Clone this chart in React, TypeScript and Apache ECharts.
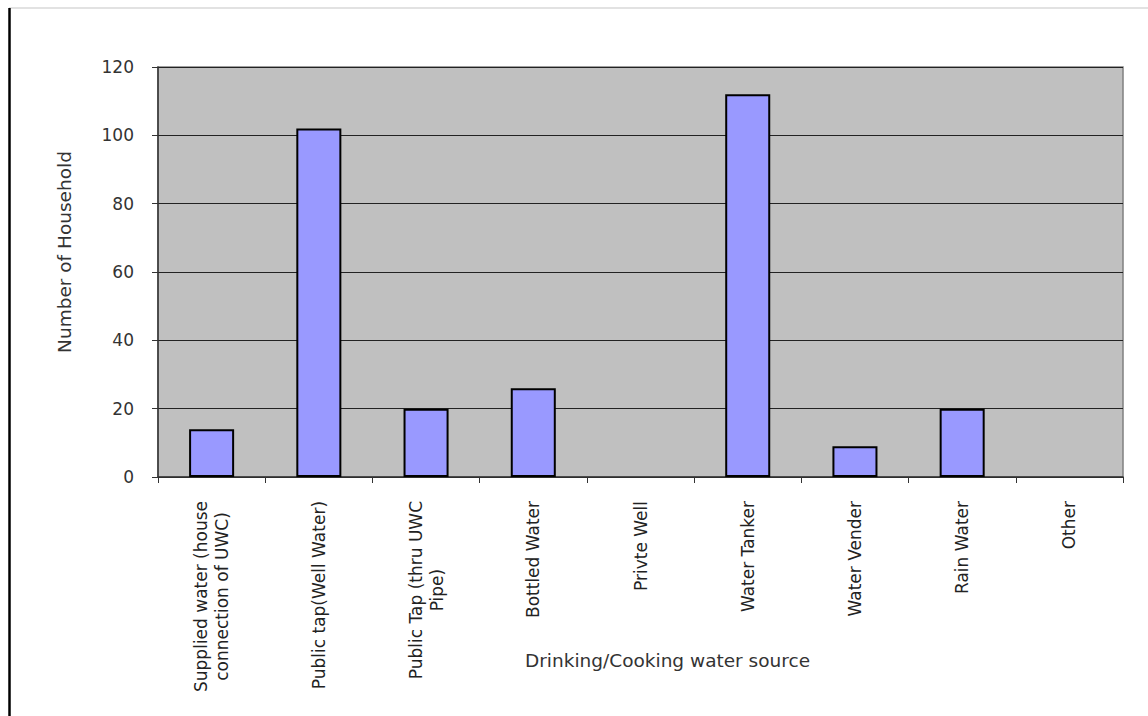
import React, { useEffect, useRef } from "react";
import * as echarts from "echarts";

const categories = [
  "Supplied water (house\nconnection of UWC)",
  "Public tap(Well Water)",
  "Public Tap (thru UWC\nPipe)",
  "Bottled Water",
  "Privte Well",
  "Water Tanker",
  "Water Vender",
  "Rain Water",
  "Other",
];
const households = [14, 102, 20, 26, 0, 112, 9, 20, 0];
const yTicks = { min: 0, max: 120, interval: 20 };

const FONT = "'DejaVu Sans', 'Liberation Sans', Arial, sans-serif";

export default function App() {
  const ref = useRef<HTMLDivElement>(null);
  useEffect(() => {
    if (!ref.current) return;
    const chart = echarts.init(ref.current, undefined, { renderer: "svg" });
    chart.setOption({
      animation: false,
      backgroundColor: "#ffffff",
      grid: {
        left: 158,
        top: 67,
        right: 25,
        bottom: 239,
        outerBoundsMode: "none",
        containLabel: false,
        show: true,
        backgroundColor: "#c0c0c0",
        borderColor: "#808080",
        borderWidth: 1.5,
      },
      xAxis: {
        type: "category",
        data: categories,
        name: "Drinking/Cooking water source",
        nameLocation: "middle",
        nameGap: 174,
        nameMoveOverlap: false,
        nameTextStyle: {
          fontFamily: FONT,
          fontSize: 18.5,
          color: "#333",
          padding: [0, 0, 0, 54],
        },
        axisLine: { show: true, lineStyle: { color: "#333", width: 1.5 } },
        axisTick: { show: true, length: 6, lineStyle: { color: "#333" } },
        axisLabel: {
          rotate: 90,
          interval: 0,
          margin: 24,
          fontFamily: FONT,
          fontSize: 17,
          color: "#222",
          lineHeight: 21,
          formatter: (v: string) =>
            v
              .split("\n")
              .map((s) => "{c|" + s + "}")
              .join("\n"),
          rich: {
            c: { align: "center", fontFamily: FONT, fontSize: 17, color: "#222", lineHeight: 21 },
          },
        },
      },
      yAxis: {
        type: "value",
        min: yTicks.min,
        max: yTicks.max,
        interval: yTicks.interval,
        name: "Number of Household",
        nameLocation: "middle",
        nameGap: 84,
        nameMoveOverlap: false,
        nameTextStyle: {
          fontFamily: FONT,
          fontSize: 18.5,
          color: "#333",
          padding: [0, 0, 0, 40],
        },
        axisLine: { show: true, lineStyle: { color: "#333", width: 1.5 } },
        axisTick: { show: true, length: 6, lineStyle: { color: "#333" } },
        axisLabel: {
          margin: 24,
          fontFamily: FONT,
          fontSize: 17,
          color: "#333",
        },
        splitLine: { show: true, lineStyle: { color: "#222", width: 1.2 } },
      },
      series: [
        {
          type: "bar",
          data: households.map((v) => ({
            value: v,
            itemStyle: v === 0 ? { borderWidth: 0, opacity: 0 } : undefined,
          })),
          barWidth: "42%",
          itemStyle: { color: "#9999ff", borderColor: "#000", borderWidth: 2 },
        },
      ],
      graphic: [
        {
          type: "line",
          shape: { x1: 9, y1: 8, x2: 1148, y2: 8 },
          style: { stroke: "#d8d8d8", lineWidth: 1.5 },
        },
        {
          type: "line",
          shape: { x1: 9.5, y1: 8, x2: 9.5, y2: 716 },
          style: { stroke: "#000", lineWidth: 2.5 },
        },
      ],
    });
    return () => chart.dispose();
  }, []);
  return (
    <div
      ref={ref}
      style={{ position: "fixed", left: 0, top: 0, width: 1148, height: 716 }}
    />
  );
}
